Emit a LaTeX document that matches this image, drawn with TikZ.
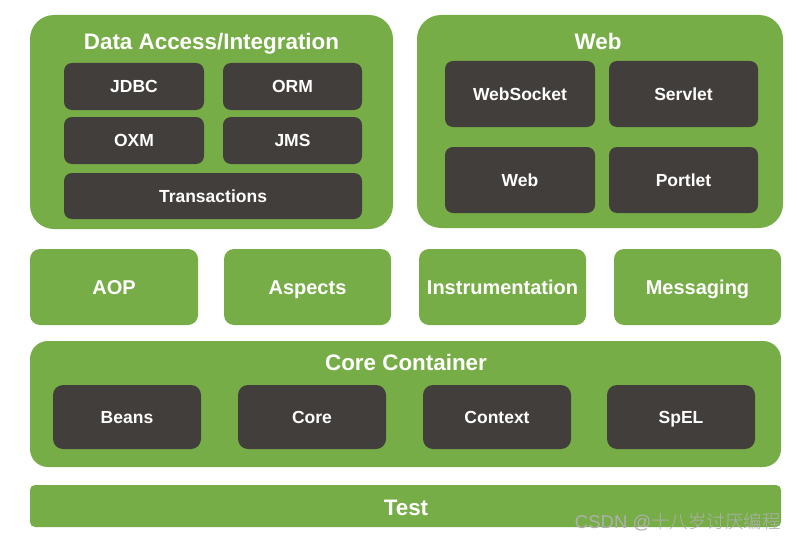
\documentclass[tikz,border=0pt]{standalone}
\usepackage{fontspec}
\setmainfont{Liberation Sans}
\newfontfamily\cjkfont{Noto Sans CJK SC Light}
\definecolor{springgreen}{RGB}{119,173,71}
\definecolor{darkbox}{RGB}{66,62,59}
\definecolor{wmgray}{RGB}{175,175,175}
\tikzset{
  grp/.style={fill=springgreen, draw=none, rounded corners=24pt, inner sep=0pt, outer sep=0pt},
  lbox/.style={fill=springgreen, draw=none, rounded corners=10pt, inner sep=0pt, outer sep=0pt, text=white, text height=14.3pt, text depth=0pt, font=\fontsize{20}{22}\selectfont\bfseries},
  dbox/.style={fill=darkbox, draw=none, rounded corners=8pt, inner sep=0pt, outer sep=0pt, text=white, text height=12.5pt, text depth=0pt, font=\fontsize{17.5}{19}\selectfont\bfseries},
  ttl/.style={text=white, inner sep=0pt, text height=16pt, text depth=0pt, font=\fontsize{22.4}{24}\selectfont\bfseries},
}
\begin{document}
\begin{tikzpicture}[x=1pt,y=-1pt]
\useasboundingbox (0,0) rectangle (797,543);
\fill[white] (0,0) rectangle (797,543);
% Data Access / Integration
\node[grp, minimum width=363pt, minimum height=214pt] (da) at (211.5,122) {};
\node[ttl] (datitle) at (211.5,42) {Data Access/Integration};
\node[dbox, minimum width=140pt, minimum height=47pt] (jdbc) at (134,86.5) {JDBC};
\node[dbox, minimum width=139pt, minimum height=47pt] (orm) at (292.5,86.5) {ORM};
\node[dbox, minimum width=140pt, minimum height=47pt] (oxm) at (134,140.5) {OXM};
\node[dbox, minimum width=139pt, minimum height=47pt] (jms) at (292.5,140.5) {JMS};
\node[dbox, minimum width=298pt, minimum height=46pt] (tx) at (213,196) {Transactions};
% Web
\node[grp, minimum width=366pt, minimum height=213pt] (web) at (600,121.5) {};
\node[ttl] (webtitle) at (598,42) {Web};
\node[dbox, minimum width=150pt, minimum height=66pt] (ws) at (520,94) {WebSocket};
\node[dbox, minimum width=149pt, minimum height=66pt] (servlet) at (683.5,94) {Servlet};
\node[dbox, minimum width=150pt, minimum height=66pt] (webm) at (520,180) {Web};
\node[dbox, minimum width=149pt, minimum height=66pt] (portlet) at (683.5,180) {Portlet};
% middle row
\node[lbox, minimum width=168pt, minimum height=76pt] (aop) at (114,287) {AOP};
\node[lbox, minimum width=167pt, minimum height=76pt] (aspects) at (307.5,287) {Aspects};
\node[lbox, minimum width=167pt, minimum height=76pt] (instr) at (502.5,287) {Instrumentation};
\node[lbox, minimum width=167pt, minimum height=76pt] (msg) at (697.5,287) {Messaging};
% Core container
\node[grp, rounded corners=18pt, minimum width=751pt, minimum height=126pt] (core) at (405.5,404) {};
\node[ttl] (coretitle) at (406,362) {Core Container};
\node[dbox, rounded corners=10pt, minimum width=148pt, minimum height=64pt] (beans) at (127,417) {Beans};
\node[dbox, rounded corners=10pt, minimum width=148pt, minimum height=64pt] (corem) at (312,417) {Core};
\node[dbox, rounded corners=10pt, minimum width=148pt, minimum height=64pt] (context) at (497,417) {Context};
\node[dbox, rounded corners=10pt, minimum width=148pt, minimum height=64pt] (spel) at (681,417) {SpEL};
% Test
\node[grp, rounded corners=5pt, minimum width=751pt, minimum height=42pt] (test) at (405.5,506) {};
\node[ttl] (testtitle) at (406,507) {Test};
% watermark
\node[text=wmgray, inner sep=0pt, anchor=east, font=\fontsize{18.5}{20}\selectfont] (wm) at (781,522) {CSDN @{\cjkfont 十八岁讨厌编程}};
\end{tikzpicture}
\end{document}
